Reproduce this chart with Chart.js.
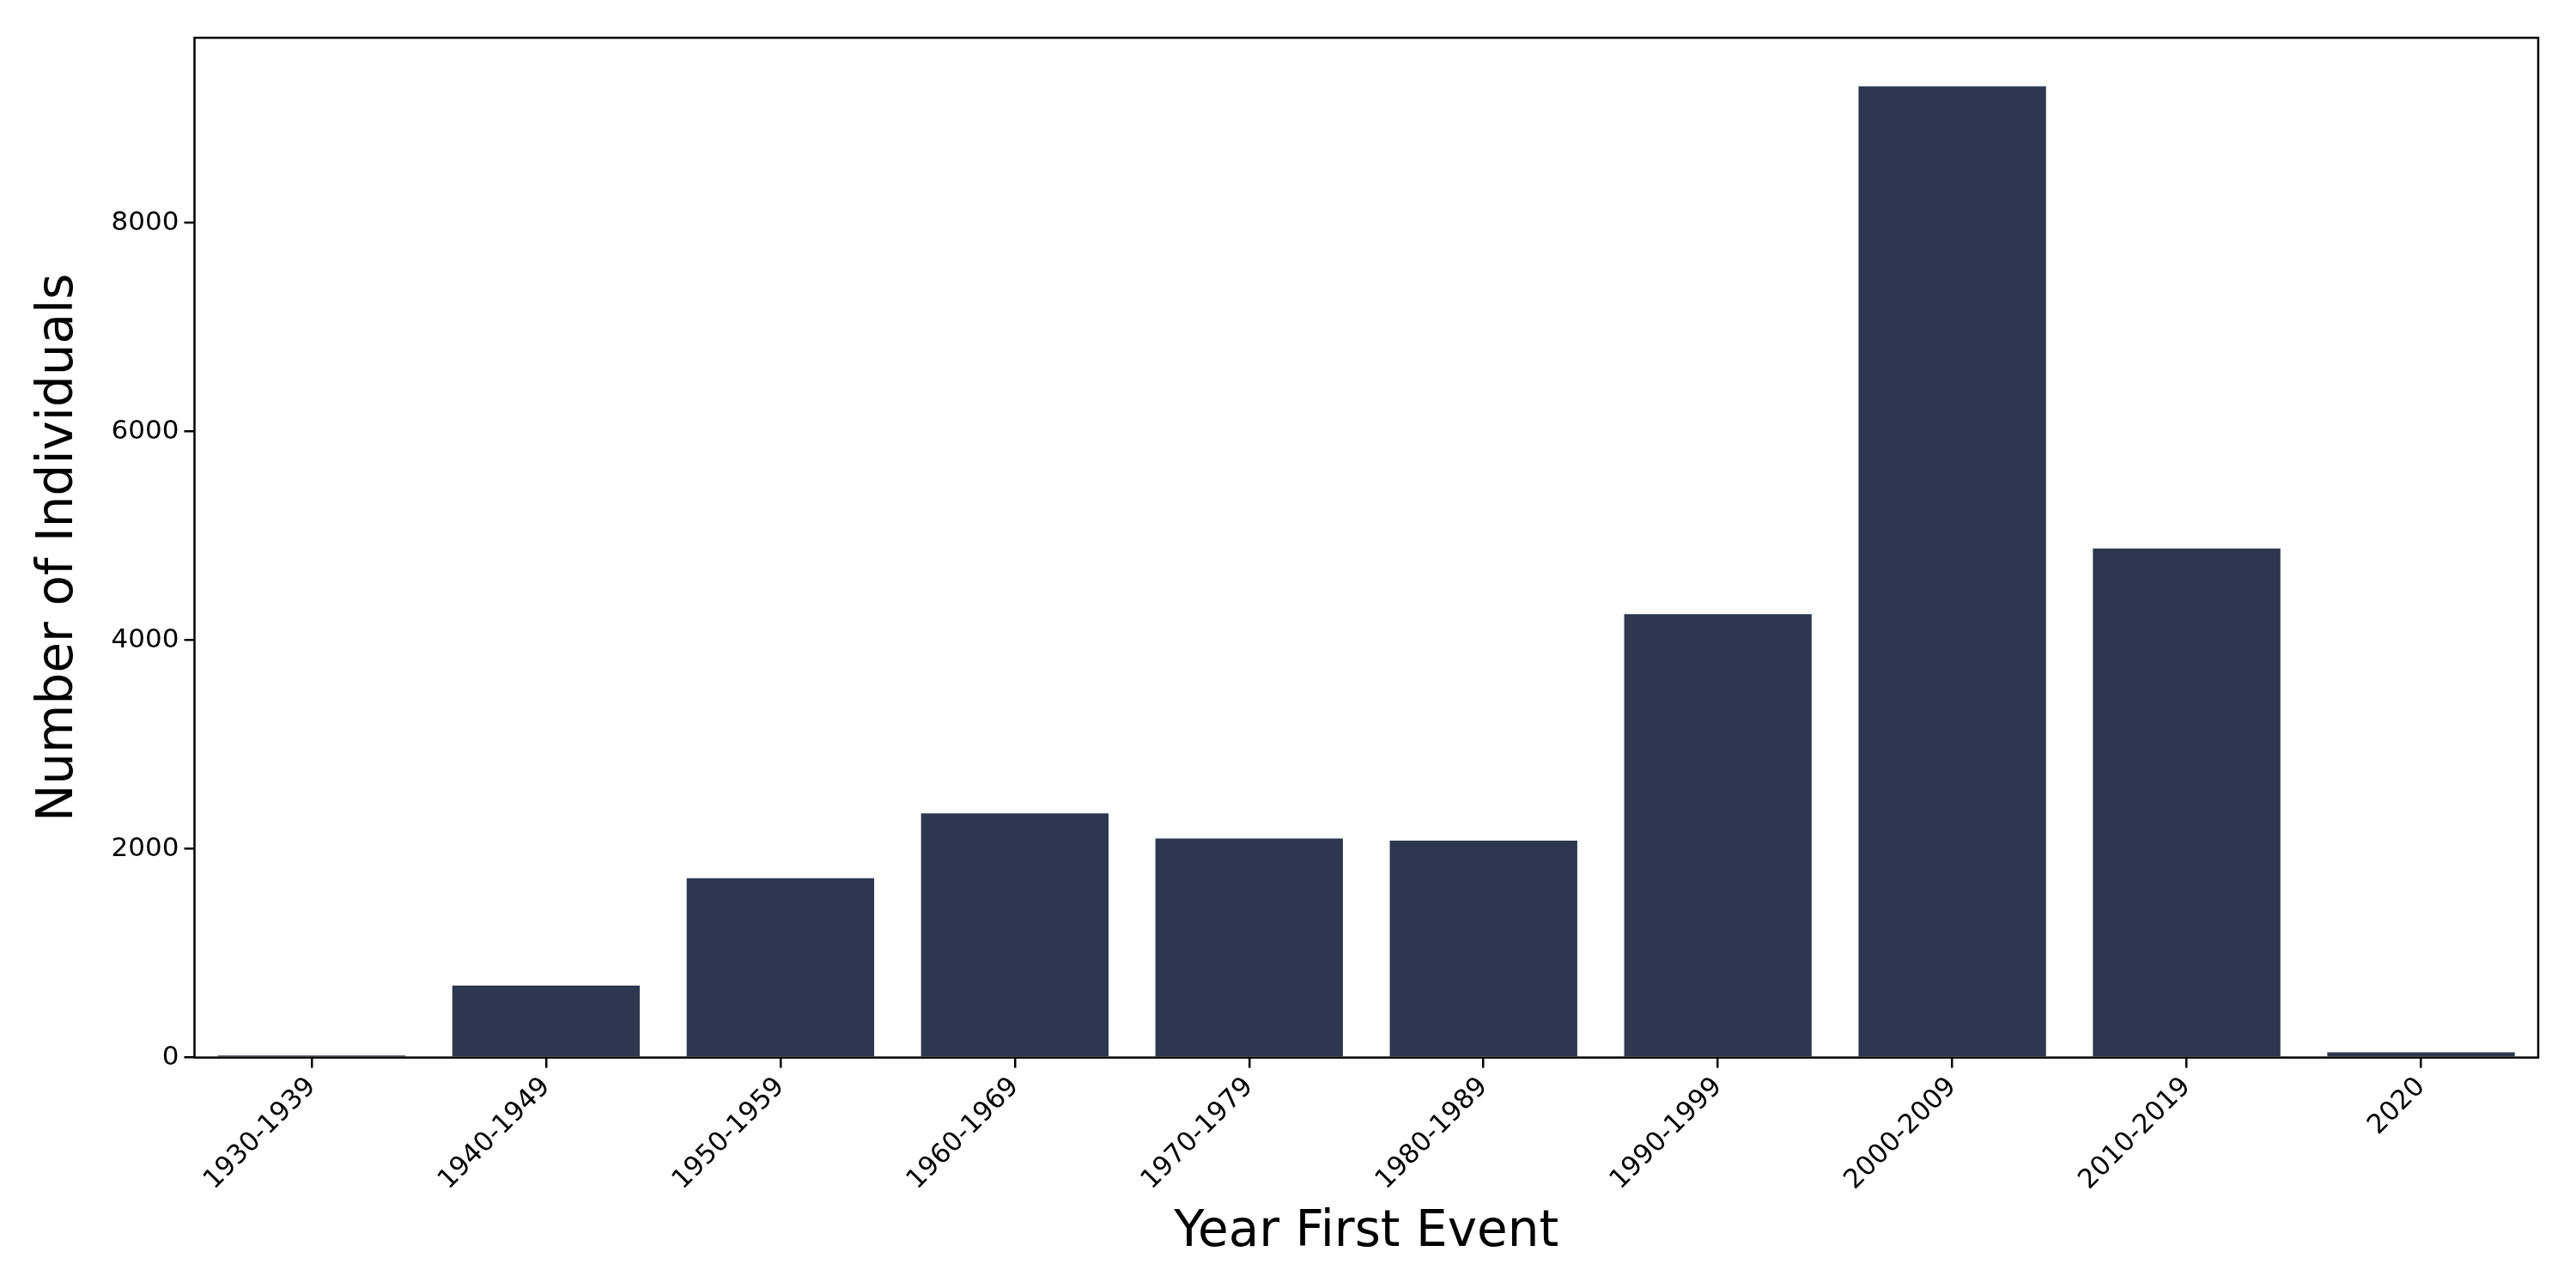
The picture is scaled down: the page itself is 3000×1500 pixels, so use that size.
<!DOCTYPE html>
<html><head>
<script src="https://cdn.jsdelivr.net/npm/chart.js@4"></script>
<style>html,body{margin:0;padding:0;background:#fff}#w{width:3000px;height:1500px}</style>
</head><body><div id="w"><canvas id="c" width="3000" height="1500"></canvas></div>
<script>
const categories = ["1930-1939","1940-1949","1950-1959","1960-1969","1970-1979","1980-1989","1990-1999","2000-2009","2010-2019","2020"];
const individuals = [20, 690, 1720, 2340, 2100, 2080, 4250, 9310, 4880, 50];
const yTicks = [0, 2000, 4000, 6000, 8000];
const yMax = 9775;

const frame = {
  id: 'frame',
  afterDraw(chart) {
    const a = chart.chartArea, ctx = chart.ctx;
    ctx.save(); ctx.strokeStyle = '#000'; ctx.lineWidth = 2.5;
    ctx.strokeRect(a.left, a.top, a.right - a.left, a.bottom - a.top);
    ctx.restore();
  }
};
new Chart(document.getElementById('c'), {
  type: 'bar',
  data: { labels: categories, datasets: [{ data: individuals, backgroundColor: '#2d3850', categoryPercentage: 0.8, barPercentage: 1.0 }] },
  options: {
    responsive: false, animation: false, devicePixelRatio: 1,
    layout: { padding: { top: 44, right: 44, left: 30, bottom: 25 } },
    plugins: { legend: { display: false }, tooltip: { enabled: false } },
    scales: {
      x: {
        grid: { offset: false, drawOnChartArea: false, tickLength: 12, color: '#000', lineWidth: 2.5 },
        border: { display: false },
        ticks: { color: '#000', font: { family: 'DejaVu Sans', size: 31 }, maxRotation: 45, minRotation: 45, padding: 4 },
        title: { display: true, text: 'Year First Event', color: '#000', font: { family: 'DejaVu Sans', size: 58 }, padding: { top: 4 } }
      },
      y: {
        min: 0, max: yMax,
        afterBuildTicks(axis) { axis.ticks = yTicks.map(v => ({ value: v })); },
        grid: { drawOnChartArea: false, tickLength: 12, color: '#000', lineWidth: 2.5 },
        border: { display: false },
        ticks: { color: '#000', font: { family: 'DejaVu Sans', size: 31 }, padding: 6, callback: v => String(v) },
        title: { display: true, text: 'Number of Individuals', color: '#000', font: { family: 'DejaVu Sans', size: 58 }, padding: { bottom: 20 } }
      }
    }
  },
  plugins: [frame]
});
</script></body></html>
